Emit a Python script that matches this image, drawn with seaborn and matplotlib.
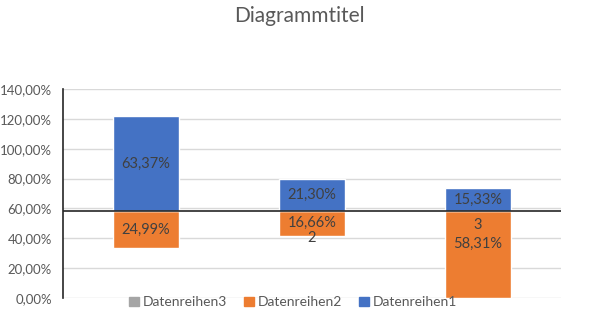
import matplotlib
matplotlib.use("Agg")
import matplotlib.pyplot as plt
import seaborn as sns
import pandas as pd
from matplotlib.patches import Patch
from matplotlib.ticker import FuncFormatter

categories = ["1", "2", "3"]
datenreihen3 = [33.32, 41.65, 0.0]      # invisible base
datenreihen2 = [24.99, 16.66, 58.31]
datenreihen1 = [63.37, 21.30, 15.33]
ref_line = 58.31
y_ticks = [0, 20, 40, 60, 80, 100, 120, 140]

sns.set_theme(style="white")
plt.rcParams['font.family'] = ['Lato', 'DejaVu Sans']

fig = plt.figure(figsize=(5.9, 3.23), dpi=100)
ax = fig.add_axes([0.1068, 0.0774, 0.951 - 0.1068, 0.7245 - 0.0774])

df = pd.DataFrame({"cat": categories, "d3": datenreihen3, "d2": datenreihen2, "d1": datenreihen1})
bottom2 = [a for a in datenreihen3]
bottom1 = [a + b for a, b in zip(datenreihen3, datenreihen2)]

BLUE = "#4472C4"
ORANGE = "#ED7D31"
GRAY = "#A5A5A5"

for v in y_ticks:
    ax.axhline(v, color="#D9D9D9", lw=1, zorder=0)

sns.barplot(data=df, x="cat", y="d2", bottom=bottom2, color=ORANGE, width=0.4,
            saturation=1, ax=ax, zorder=2)
sns.barplot(data=df, x="cat", y="d1", bottom=bottom1, color=BLUE, width=0.4,
            saturation=1, ax=ax, zorder=2)

ax.axhline(ref_line, color="#262626", lw=1.2, zorder=3)

lab_kw = dict(ha="center", va="center", color="#404040", fontsize=10.5, zorder=4)
for i in range(3):
    mid2 = datenreihen3[i] + datenreihen2[i] / 2
    mid1 = bottom1[i] + datenreihen1[i] / 2
    ax.text(i, mid1, f"{datenreihen1[i]:.2f}%".replace(".", ","), **lab_kw)
    if i == 2:
        ax.text(i, 36, f"{datenreihen2[i]:.2f}%".replace(".", ","), **lab_kw)
        ax.text(i, 49, "3", **lab_kw)
    else:
        ax.text(i, mid2, f"{datenreihen2[i]:.2f}%".replace(".", ","), **lab_kw)
ax.text(1, 40.5, "2", **lab_kw)

ax.set_xlim(-0.5, 2.5)
ax.set_ylim(0, 140)
ax.set_yticks(y_ticks)
ax.yaxis.set_major_formatter(FuncFormatter(lambda v, p: f"{v:.2f}%".replace(".", ",")))
ax.tick_params(axis="y", labelsize=9.5, labelcolor="#595959", length=0, pad=8)
ax.set_xticks([])
ax.set_xlabel("")
ax.set_ylabel("")
for s in ["top", "right", "bottom"]:
    ax.spines[s].set_visible(False)
ax.spines["left"].set_color("#262626")
ax.spines["left"].set_linewidth(1.2)

fig.text(0.508, 0.952, "Diagrammtitel", ha="center", va="center", fontsize=15, color="#595959")

handles = [Patch(color=GRAY), Patch(color=ORANGE), Patch(color=BLUE)]
leg = fig.legend(handles, ["Datenreihen3", "Datenreihen2", "Datenreihen1"], loc="center",
                 bbox_to_anchor=(0.497, 0.064), ncol=3, frameon=False, fontsize=10,
                 handlelength=0.7, handleheight=0.7, handletextpad=0.3, columnspacing=1.2,
                 borderpad=0)
for t in leg.get_texts():
    t.set_color("#595959")

fig.savefig("out.png", dpi=100)
